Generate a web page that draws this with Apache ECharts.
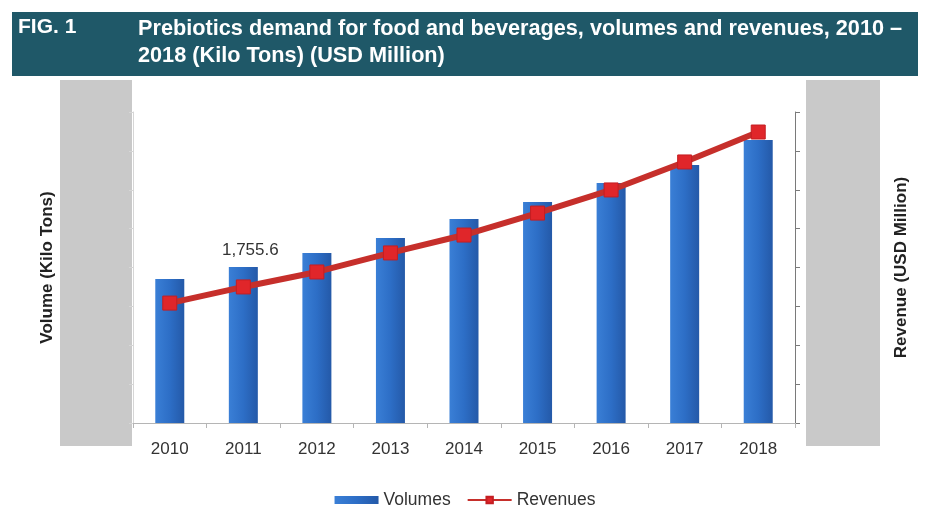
<!DOCTYPE html>
<html>
<head>
<meta charset="utf-8">
<script src="https://cdn.jsdelivr.net/npm/echarts@6/dist/echarts.min.js"></script>
<style>
  html, body { margin: 0; padding: 0; background: #ffffff; }
  #chart { width: 930px; height: 515px; }
</style>
</head>
<body>
<div id="chart"></div>
<script>
// Years on the category axis
const years = ['2010', '2011', '2012', '2013', '2014', '2015', '2016', '2017', '2018'];
// Prebiotics volume, kilo tons (left axis)
const volumes = [1620, 1755.6, 1913, 2081, 2295, 2486, 2700, 2903, 3184];
// Prebiotics revenue, USD million (right axis)
const revenues = [617, 700, 777, 875, 967, 1080, 1199, 1343, 1497];
// Only the 2011 volume carries a value label
const labelledYear = '2011';

const chart = echarts.init(document.getElementById('chart'), null, { renderer: 'canvas' });

const FONT = '"Liberation Sans", Arial, sans-serif';

chart.setOption({
  animation: false,
  backgroundColor: '#ffffff',
  textStyle: { fontFamily: FONT },
  graphic: [
    // title banner
    { type: 'rect', left: 12, top: 12, shape: { width: 906, height: 64 },
      style: { fill: '#1f5868' }, z: 0 },
    { type: 'text', left: 18, top: 17,
      style: { text: 'FIG. 1', fill: '#ffffff', font: 'bold 21px ' + FONT }, z: 1 },
    { type: 'text', left: 138, top: 16,
      style: { text: 'Prebiotics demand for food and beverages, volumes and revenues, 2010 –\n2018 (Kilo Tons) (USD Million)',
               fill: '#ffffff', font: 'bold 21.7px ' + FONT, lineHeight: 27 }, z: 1 },
    // grey panels behind the axis labels
    { type: 'rect', left: 60, top: 80, shape: { width: 72, height: 366 },
      style: { fill: '#c9c9c9' }, z: -1 },
    { type: 'rect', left: 806, top: 80, shape: { width: 74, height: 366 },
      style: { fill: '#c9c9c9' }, z: -1 }
  ],
  grid: { left: 133, right: 135, top: 112, bottom: 92, containLabel: false },
  legend: {
    bottom: 1,
    left: 'center',
    itemGap: 16,
    itemWidth: 44,
    itemHeight: 8,
    textStyle: { fontSize: 17.5, color: '#333333', fontFamily: FONT },
    data: [
      { name: 'Volumes', icon: 'rect' },
      { name: 'Revenues' }
    ]
  },
  xAxis: {
    type: 'category',
    data: years,
    axisLine: { show: true, lineStyle: { color: '#b5b5b5', width: 1 } },
    axisTick: { show: true, alignWithLabel: false, length: 5, lineStyle: { color: '#b5b5b5' } },
    axisLabel: { color: '#333333', fontSize: 17, margin: 18, fontFamily: FONT },
    splitLine: { show: false }
  },
  yAxis: [
    {
      type: 'value',
      min: 0,
      max: 3500,
      interval: 437.5,
      name: 'Volume (Kilo Tons)',
      nameLocation: 'middle',
      nameRotate: 90,
      nameGap: 77,
      nameTextStyle: { fontSize: 17, fontWeight: 'bold', color: '#222222', fontFamily: FONT },
      axisLine: { show: true, lineStyle: { color: '#d6d6d6' } },
      axisTick: { show: true, length: 4, lineStyle: { color: '#d6d6d6' } },
      axisLabel: { show: false },
      splitLine: { show: false }
    },
    {
      type: 'value',
      min: 0,
      max: 1600,
      interval: 200,
      position: 'right',
      name: 'Revenue (USD Million)',
      nameLocation: 'middle',
      nameRotate: 90,
      nameGap: 98,
      nameTextStyle: { fontSize: 17, fontWeight: 'bold', color: '#222222', fontFamily: FONT },
      axisLine: { show: true, lineStyle: { color: '#7a7a7a', width: 1 } },
      axisTick: { show: true, length: 5, inside: false, lineStyle: { color: '#7a7a7a' } },
      axisLabel: { show: false },
      splitLine: { show: false }
    }
  ],
  series: [
    {
      name: 'Volumes',
      type: 'bar',
      yAxisIndex: 0,
      barWidth: 29,
      data: volumes.map((v, i) => ({
        value: v,
        label: {
          show: years[i] === labelledYear,
          position: 'top',
          distance: 8,
          offset: [7, 0],
          color: '#333333',
          fontSize: 17,
          fontFamily: FONT,
          formatter: p => p.value.toLocaleString('en-US', { minimumFractionDigits: 1 })
        }
      })),
      itemStyle: {
        color: new echarts.graphic.LinearGradient(0, 0, 1, 0, [
          { offset: 0, color: '#3a7fd6' },
          { offset: 0.5, color: '#2d6ec6' },
          { offset: 1, color: '#2459a8' }
        ])
      },
      z: 2
    },
    {
      name: 'Revenues',
      type: 'line',
      yAxisIndex: 1,
      data: revenues,
      symbol: 'rect',
      symbolSize: 14,
      lineStyle: { color: '#c62f2b', width: 6 },
      itemStyle: { color: '#e0262a', borderColor: '#c41e22', borderWidth: 1 },
      z: 3
    }
  ]
});
</script>
</body>
</html>
